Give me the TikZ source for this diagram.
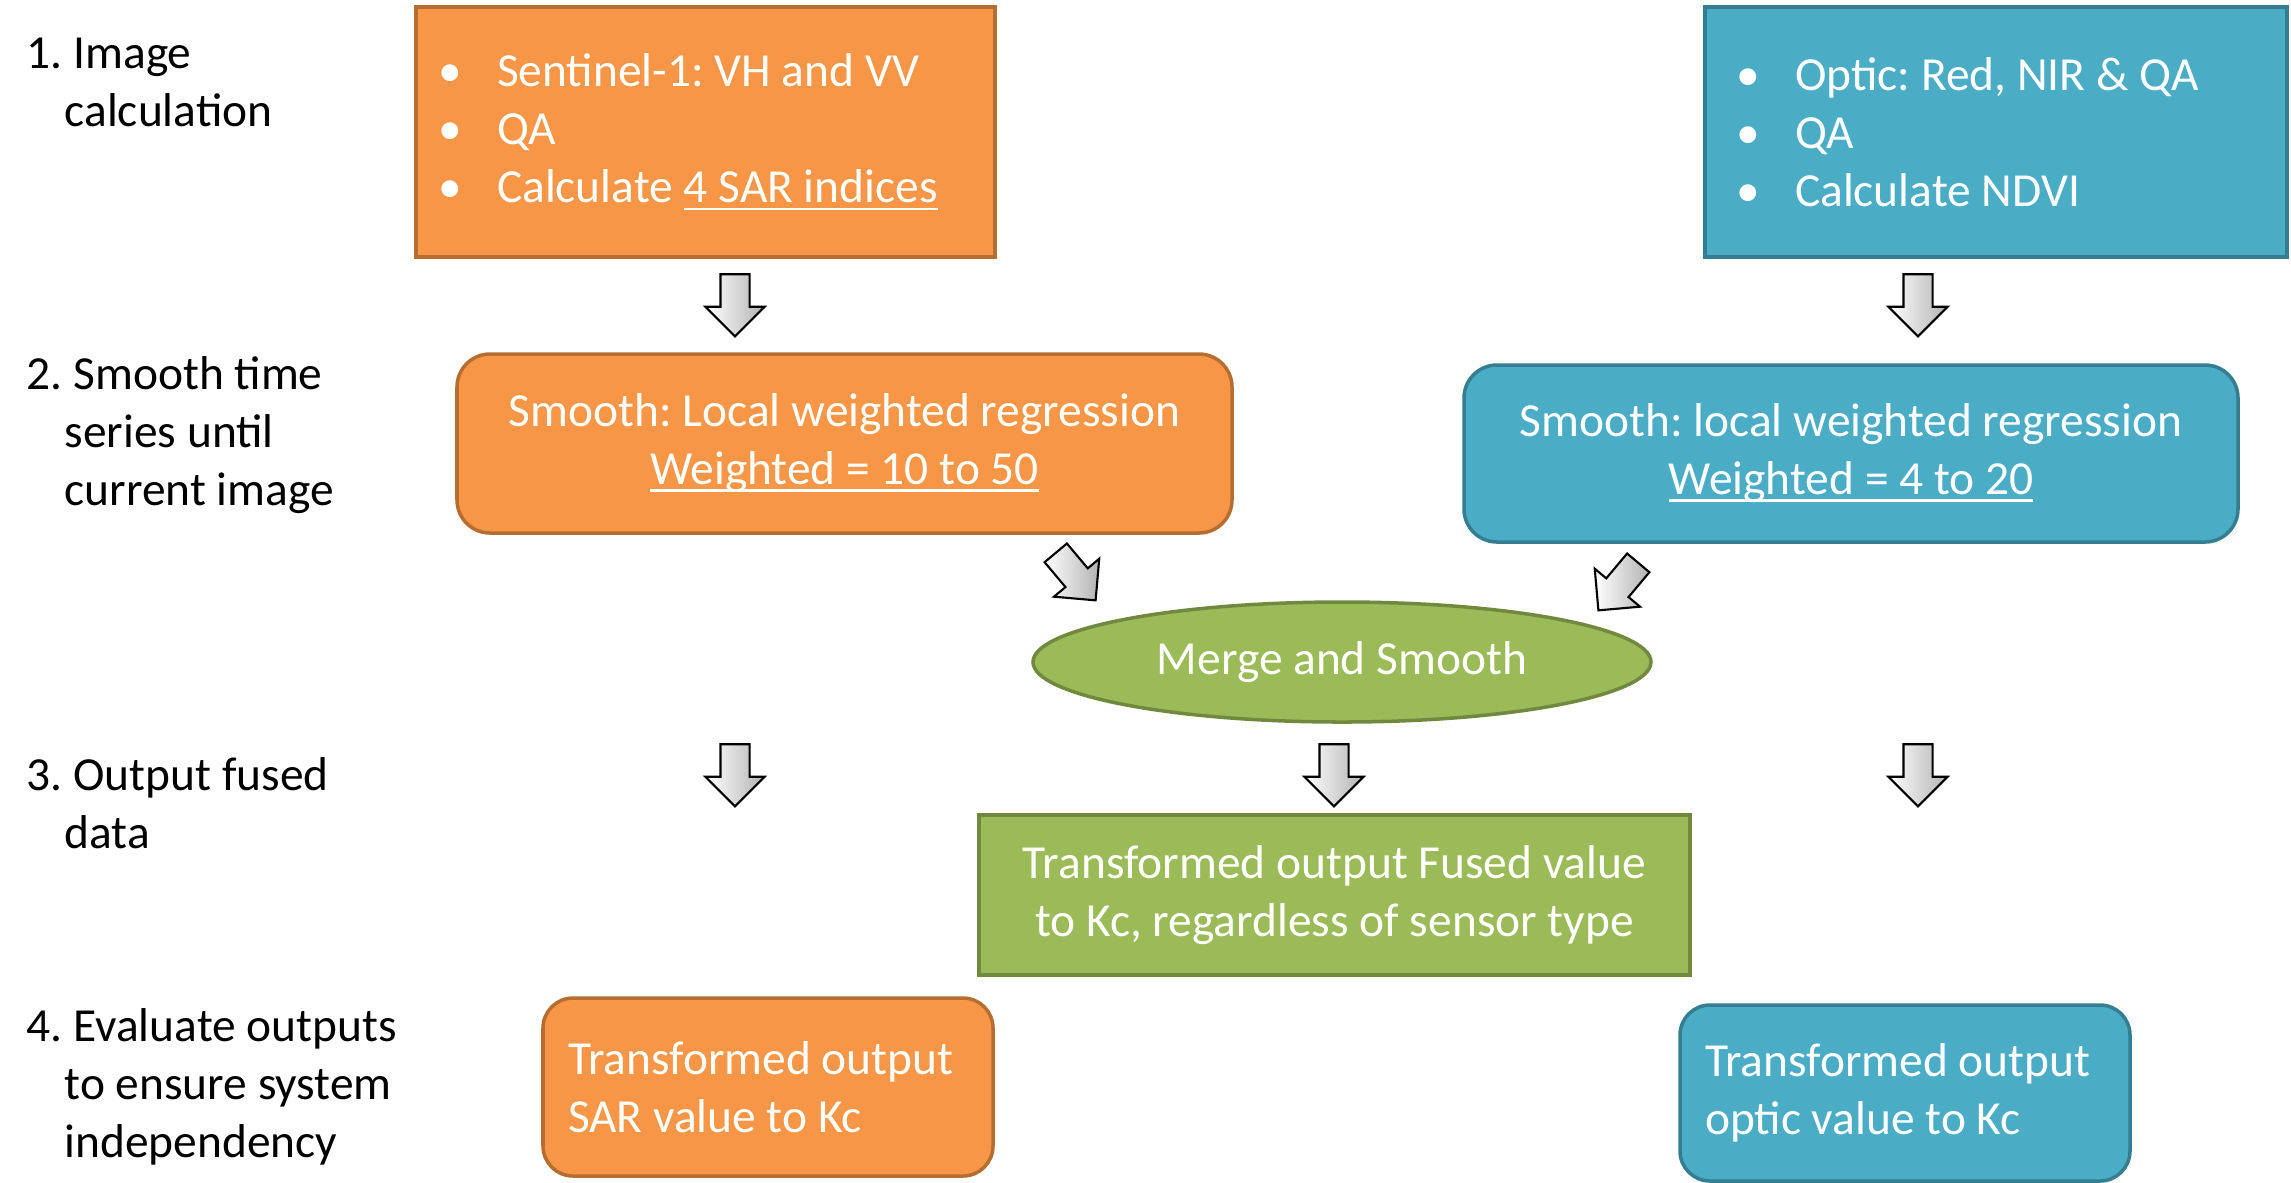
\documentclass[tikz,border=0pt]{standalone}
\usepackage{fontspec}
\setmainfont{Carlito}
\usepackage{tikz}
\usetikzlibrary{shapes.geometric, shapes.arrows}
\definecolor{sarfill}{HTML}{F79646}
\definecolor{sarline}{HTML}{B66D31}
\definecolor{optfill}{HTML}{4BACC6}
\definecolor{optline}{HTML}{357D91}
\definecolor{mrgfill}{HTML}{9BBB59}
\definecolor{mrgline}{HTML}{71893F}
\tikzset{
  box/.style={draw, line width=1pt, text=white, inner sep=0pt,
    font=\fontsize{13.5}{16.5}\selectfont\frenchspacing},
  sarbox/.style={box, fill=sarfill, draw=sarline},
  optbox/.style={box, fill=optfill, draw=optline},
  mrgbox/.style={box, fill=mrgfill, draw=mrgline},
  steplabel/.style={anchor=west, align=left, inner sep=0pt,
    font=\fontsize{13.5}{16.5}\selectfont\frenchspacing},
  blockarrow/.style={single arrow, draw=black, line width=0.6pt,
    left color=white, right color=gray!60, inner xsep=0pt, inner ysep=0.135cm,
    minimum height=0.62cm, single arrow head extend=0.15cm}
}
\newcommand{\bul}{\makebox[16.8pt][l]{\textbullet}}
\newcommand{\undl}[1]{{\setbox0\hbox{#1}\rlap{\rule[-2pt]{\wd0}{0.7pt}}\box0}}

\begin{document}
\begin{tikzpicture}
  \useasboundingbox (0,0) rectangle (22.91,-11.82);

  % step labels
  \node[steplabel] (L1) at (0.26,-0.825) {1. Image\\\hspace*{0.8em}calculation};
  \node[steplabel] (L2) at (0.26,-4.355) {2. Smooth time\\\hspace*{0.8em}series until\\\hspace*{0.8em}current image};
  \node[steplabel] (L3) at (0.26,-8.035) {3. Output fused\\\hspace*{0.8em}data};
  \node[steplabel] (L4) at (0.26,-10.865) {4. Evaluate outputs\\\hspace*{0.8em}to ensure system\\\hspace*{0.8em}independency};

  % image calculation
  \node[sarbox, text width=5.35cm, inner xsep=0.22cm, minimum height=2.5cm, align=flush left] (SAR) at (7.055,-1.32)
    {\bul Sentinel-1: VH and VV\\\bul QA\\\bul Calculate \undl{4 SAR indices}};
  \node[optbox, text width=5.2cm, inner xsep=0.31cm, minimum height=2.5cm, align=flush left] (OPT) at (19.96,-1.32)
    {\bul Optic: Red, NIR \& QA\\\bul QA\\\bul Calculate NDVI};

  % smoothing
  \node[sarbox, rounded corners=0.33cm, minimum width=7.75cm, minimum height=1.79cm, align=center] (SMSAR) at (8.445,-4.435)
    {Smooth: Local weighted regression\\\undl{Weighted = 10 to 50}};
  \node[optbox, rounded corners=0.33cm, minimum width=7.74cm, minimum height=1.77cm, align=center] (SMOPT) at (18.51,-4.535)
    {Smooth: local weighted regression\\\undl{Weighted = 4 to 20}};

  \node[mrgbox, ellipse, minimum width=6.18cm, minimum height=1.2cm] (MERGE) at (13.42,-6.62) {Merge and Smooth};

  % outputs
  \node[mrgbox, minimum width=7.11cm, minimum height=1.6cm, align=center] (FUSED) at (13.345,-8.95)
    {Transformed output Fused value\\to Kc, regardless of sensor type};
  \node[sarbox, rounded corners=0.3cm, text width=4.0cm, inner xsep=0.25cm, minimum height=1.78cm, align=flush left] (OUTSAR) at (7.68,-10.87)
    {Transformed output\\SAR value to Kc};
  \node[optbox, rounded corners=0.3cm, text width=4.0cm, inner xsep=0.25cm, minimum height=1.76cm, align=flush left] (OUTOPT) at (19.05,-10.93)
    {Transformed output\\optic value to Kc};

  % block arrows
  \node[blockarrow, rotate=-90] (D1) at (7.35,-2.98) {};
  \node[blockarrow, rotate=-90] (D2) at (19.18,-2.98) {};
  \node[blockarrow, rotate=-50] (D3) at (10.71,-5.71) {};
  \node[blockarrow, rotate=-130] (D4) at (16.23,-5.81) {};
  \node[blockarrow, rotate=-90] (D5) at (7.35,-7.68) {};
  \node[blockarrow, rotate=-90] (D6) at (13.34,-7.68) {};
  \node[blockarrow, rotate=-90] (D7) at (19.18,-7.68) {};
\end{tikzpicture}
\end{document}
